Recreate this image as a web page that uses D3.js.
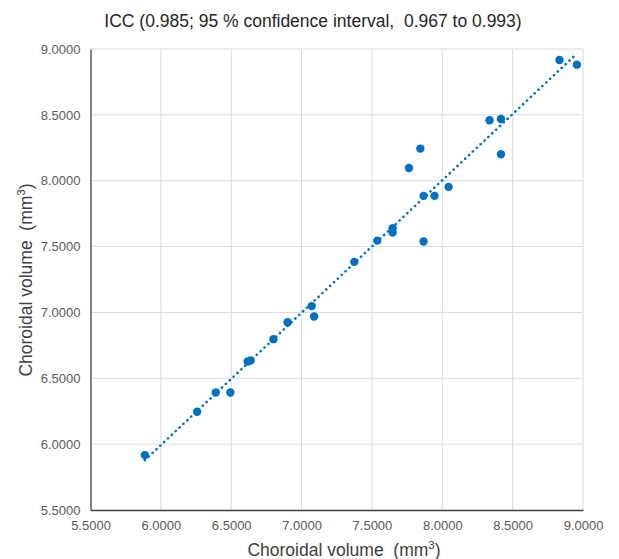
<!DOCTYPE html>
<html><head><meta charset="utf-8">
<script src="https://cdn.jsdelivr.net/npm/d3@7"></script>
<style>
body{margin:0;background:#fff;}
svg{display:block;font-family:"Liberation Sans",Arial,sans-serif;}
text{white-space:pre;}
</style></head>
<body><svg id="c" width="619" height="559"></svg>
<script>
const titleText = "ICC (0.985; 95 % confidence interval,  0.967 to 0.993)";
const xTitle = "Choroidal volume  (mm";
const yTitle = "Choroidal volume  (mm";
const xTicks = [5.5, 6.0, 6.5, 7.0, 7.5, 8.0, 8.5, 9.0];
const yTicks = [5.5, 6.0, 6.5, 7.0, 7.5, 8.0, 8.5, 9.0];
const xValues = [8.833, 8.957, 8.336, 8.417, 7.844, 7.763, 8.417, 8.045, 7.867, 7.945, 7.647, 7.647, 7.538, 7.867, 7.375, 7.072, 7.089, 6.901, 6.800, 6.617, 6.638, 6.390, 6.494, 6.258, 5.886];
const yValues = [8.917, 8.881, 8.459, 8.469, 8.244, 8.097, 8.201, 7.953, 7.885, 7.885, 7.640, 7.607, 7.545, 7.538, 7.384, 7.048, 6.969, 6.926, 6.797, 6.627, 6.635, 6.392, 6.392, 6.246, 5.917];

const svg = d3.select("#c");
const L = 90.5, R = 583, T = 49, B = 510;
const x = d3.scaleLinear().domain([5.5, 9.0]).range([L, R]);
const y = d3.scaleLinear().domain([5.5, 9.0]).range([B, T]);
const fmt = d3.format(".4f");

// gridlines
svg.append("g").selectAll("line").data(xTicks.slice(1)).join("line")
  .attr("x1", d => x(d)).attr("x2", d => x(d)).attr("y1", T).attr("y2", B)
  .attr("stroke", "#d9d9d9").attr("stroke-width", 1);
svg.append("g").selectAll("line").data(yTicks.slice(1)).join("line")
  .attr("x1", L).attr("x2", R).attr("y1", d => y(d)).attr("y2", d => y(d))
  .attr("stroke", "#d9d9d9").attr("stroke-width", 1);

// axes
const xAxis = svg.append("g").attr("transform", `translate(0,${B})`)
  .call(d3.axisBottom(x).tickValues(xTicks).tickFormat(fmt).tickSize(0).tickPadding(11));
const yAxis = svg.append("g").attr("transform", `translate(${L},0)`)
  .call(d3.axisLeft(y).tickValues(yTicks).tickFormat(fmt).tickSize(0).tickPadding(10));
[xAxis, yAxis].forEach(g => {
  g.select(".domain").attr("stroke", "#404040").attr("stroke-width", 1.3);
  g.selectAll("text").attr("font-size", 13).attr("fill", "#595959")
    .attr("font-family", "Liberation Sans, Arial, sans-serif");
});

// trendline (least squares)
const n = xValues.length;
const mx = d3.mean(xValues), my = d3.mean(yValues);
let sxy = 0, sxx = 0;
for (let i = 0; i < n; i++) { sxy += (xValues[i]-mx)*(yValues[i]-my); sxx += (xValues[i]-mx)**2; }
const slope = sxy / sxx, icpt = my - slope * mx;
const x0 = d3.min(xValues), x1 = d3.max(xValues);
svg.append("line")
  .attr("x1", x(x0)).attr("y1", y(icpt + slope*x0))
  .attr("x2", x(x1)).attr("y2", y(icpt + slope*x1))
  .attr("stroke", "#0070C0").attr("stroke-width", 2.6)
  .attr("stroke-linecap", "round").attr("stroke-dasharray", "0.1 5.2");

// points
svg.append("g").selectAll("circle").data(xValues).join("circle")
  .attr("cx", (d, i) => x(d)).attr("cy", (d, i) => y(yValues[i]))
  .attr("r", 4.2).attr("fill", "#0070C0");

// title
svg.append("text").attr("x", 313).attr("y", 27).attr("text-anchor", "middle")
  .attr("font-size", 17.5).attr("fill", "#262626").text(titleText);

// axis titles
const xt = svg.append("text").attr("x", 344).attr("y", 556).attr("text-anchor", "middle")
  .attr("font-size", 17.5).attr("fill", "#404040").text(xTitle);
xt.append("tspan").attr("font-size", 11.5).attr("dy", -7).text("3");
xt.append("tspan").attr("dy", 7).text(")");

const yt = svg.append("text").attr("transform", `translate(32,280) rotate(-90)`)
  .attr("text-anchor", "middle").attr("font-size", 17.5).attr("fill", "#404040").text(yTitle);
yt.append("tspan").attr("font-size", 11.5).attr("dy", -7).text("3");
yt.append("tspan").attr("dy", 7).text(")");
</script></body></html>
